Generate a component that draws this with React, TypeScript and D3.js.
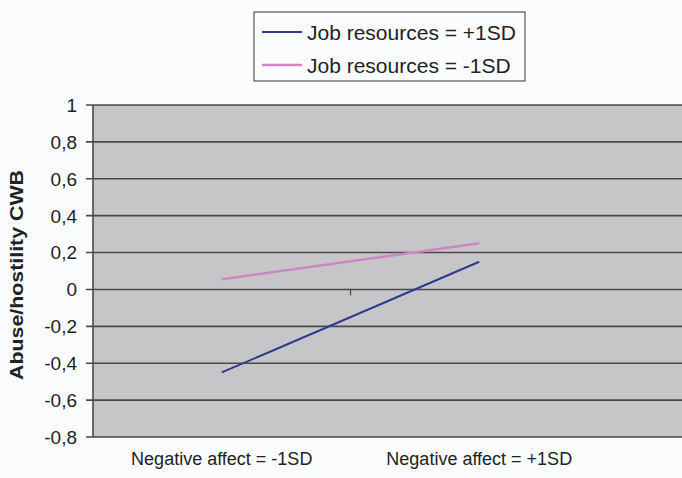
import React from "react";
import * as d3 from "d3";

const categories = ["Negative affect = -1SD", "Negative affect = +1SD"];
const seriesNames = ["Job resources = +1SD", "Job resources = -1SD"];
const highResources = [-0.45, 0.15];
const lowResources = [0.055, 0.25];
const yTicks = [-0.8, -0.6, -0.4, -0.2, 0, 0.2, 0.4, 0.6, 0.8, 1];
const yTickLabels = ["-0,8", "-0,6", "-0,4", "-0,2", "0", "0,2", "0,4", "0,6", "0,8", "1"];
const yTitle = "Abuse/hostility CWB";

const W = 682;
const H = 478;
const plotLeft = 93;
const plotRight = 682;
const plotTop = 105;
const plotBottom = 437;
const catRight = 608;
const colors = ["#2d3b8a", "#cc86c6"];
const font = "Liberation Sans, Arial, Helvetica, sans-serif";

export default function App() {
  const x = d3.scalePoint<string>().domain(categories).range([plotLeft, catRight]).padding(0.5);
  const y = d3.scaleLinear().domain([-0.8, 1]).range([plotBottom, plotTop]);
  const line = d3
    .line<number>()
    .x((_, i) => x(categories[i]) as number)
    .y((d) => y(d));
  const series = [highResources, lowResources];
  const midX = (plotLeft + catRight) / 2;

  return (
    <svg
      width={W}
      height={H}
      style={{ position: "absolute", left: 0, top: 0, fontFamily: font }}
    >
      <rect x={0} y={0} width={W} height={H} fill="#fbfcfe" />
      <rect
        x={plotLeft}
        y={plotTop}
        width={plotRight - plotLeft}
        height={plotBottom - plotTop}
        fill="#c6c6c8"
      />
      {yTicks.map((t, i) => (
        <g key={t}>
          <line
            x1={plotLeft - 7}
            x2={plotRight}
            y1={y(t)}
            y2={y(t)}
            stroke="#4a4a4a"
            strokeWidth={1.6}
          />
          <text
            x={77}
            y={y(t)}
            dy="0.36em"
            textAnchor="end"
            fontSize={19}
            fill="#222"
          >
            {yTickLabels[i]}
          </text>
        </g>
      ))}
      <line
        x1={plotLeft}
        x2={plotLeft}
        y1={plotTop}
        y2={plotBottom}
        stroke="#4a4a4a"
        strokeWidth={1.6}
      />
      <line x1={midX} x2={midX} y1={y(0)} y2={y(0) + 6} stroke="#4a4a4a" strokeWidth={1.2} />
      {series.map((s, i) => (
        <path key={i} d={line(s) || ""} fill="none" stroke={colors[i]} strokeWidth={i === 1 ? 2.5 : 2} />
      ))}
      {categories.map((c) => (
        <text
          key={c}
          x={x(c)}
          y={465}
          textAnchor="middle"
          fontSize={18}
          fill="#222"
        >
          {c}
        </text>
      ))}
      <text
        transform={`translate(23, 275) rotate(-90)`}
        textAnchor="middle"
        fontSize={18}
        fontWeight="bold"
        fill="#222"
        textLength={210}
        lengthAdjust="spacingAndGlyphs"
      >
        {yTitle}
      </text>
      <rect x={254} y={12} width={271} height={69} fill="#fbfcfe" stroke="#333" strokeWidth={1} />
      {seriesNames.map((n, i) => (
        <g key={n}>
          <line
            x1={262}
            x2={302}
            y1={32 + i * 33}
            y2={32 + i * 33}
            stroke={colors[i]}
            strokeWidth={i === 1 ? 2.5 : 2}
          />
          <text x={307} y={32 + i * 33} dy="0.36em" fontSize={21} fill="#222">
            {n}
          </text>
        </g>
      ))}
    </svg>
  );
}
